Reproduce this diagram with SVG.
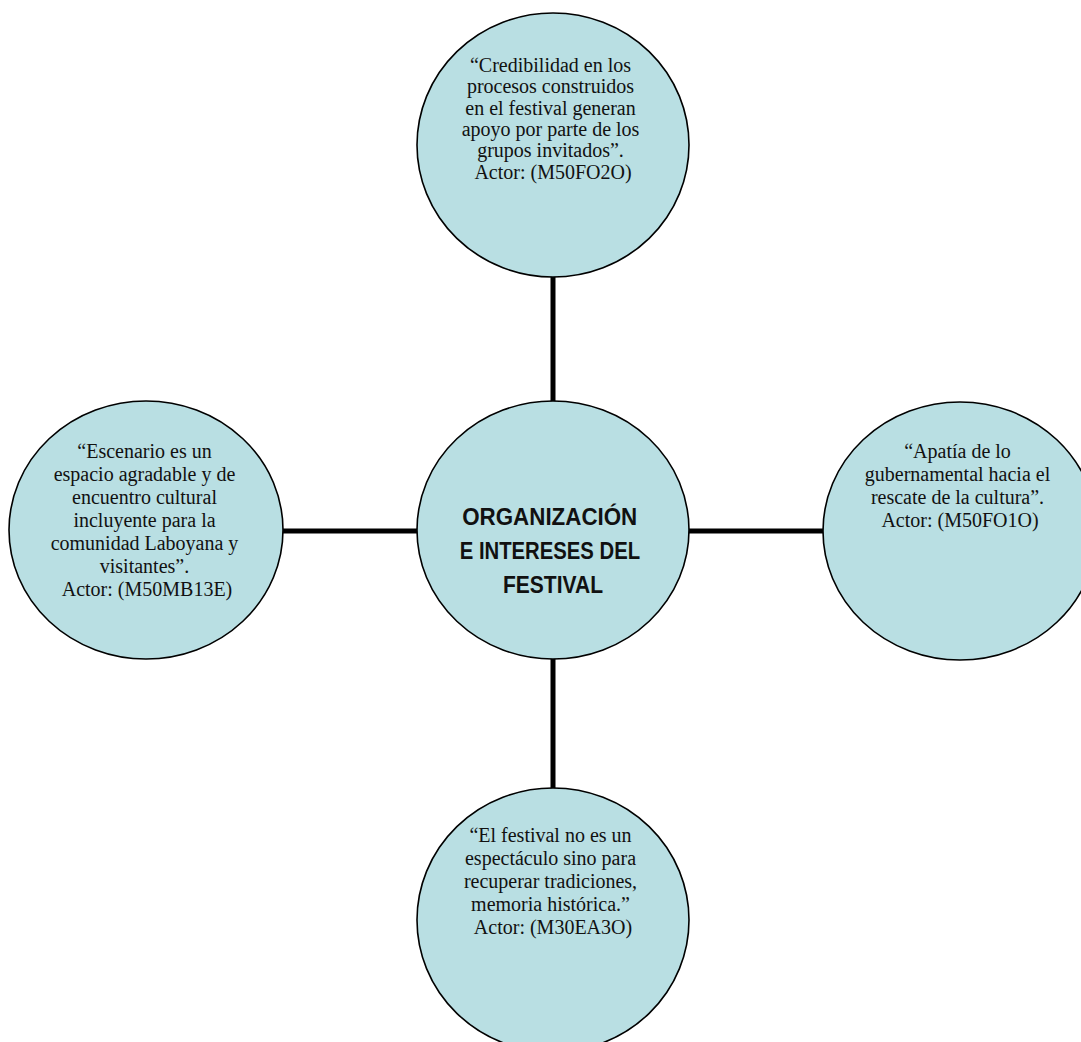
<svg xmlns="http://www.w3.org/2000/svg" width="1081" height="1042" viewBox="0 0 1081 1042">
  <style>
    .bubble { fill: #b9dfe3; stroke: #000; stroke-width: 1.6; }
    .link { stroke: #000; stroke-width: 5; fill: none; }
    .quote { font-family: "Liberation Serif", "Times New Roman", serif; font-size: 20px; fill: #111; text-anchor: middle; }
    .hub { font-family: "Liberation Sans", Arial, sans-serif; font-weight: bold; font-size: 23.5px; fill: #111; text-anchor: middle; }
  </style>
  <rect width="1081" height="1042" fill="#fff"/>

  <!-- spokes joining the hub to each quote -->
  <g id="connectors">
    <line class="link" x1="553" y1="276" x2="553" y2="402"/>
    <line class="link" x1="553" y1="658" x2="553" y2="789"/>
    <line class="link" x1="282" y1="531" x2="418" y2="531"/>
    <line class="link" x1="688" y1="531" x2="824" y2="531"/>
  </g>

  <g id="node-top">
    <ellipse class="bubble" cx="553" cy="145" rx="136" ry="132"/>
    <text class="quote">
      <tspan x="553" y="72">“Credibilidad en los</tspan>
      <tspan x="553" y="93.3">procesos construidos</tspan>
      <tspan x="553" y="114.6">en el festival generan</tspan>
      <tspan x="553" y="135.9">apoyo por parte de los</tspan>
      <tspan x="553" y="157.2">grupos invitados”.</tspan>
      <tspan x="553" y="178.5">Actor: (M50FO2O)</tspan>
    </text>
  </g>

  <g id="node-hub">
    <ellipse class="bubble" cx="553" cy="530" rx="136" ry="129"/>
    <text class="hub">
      <tspan x="553" y="525" textLength="175" lengthAdjust="spacingAndGlyphs">ORGANIZACIÓN</tspan>
      <tspan x="553" y="559" textLength="180" lengthAdjust="spacingAndGlyphs">E INTERESES DEL</tspan>
      <tspan x="553" y="593" textLength="100" lengthAdjust="spacingAndGlyphs">FESTIVAL</tspan>
    </text>
  </g>

  <g id="node-left">
    <ellipse class="bubble" cx="146" cy="530" rx="137" ry="129"/>
    <text class="quote">
      <tspan x="147" y="458">“Escenario es un</tspan>
      <tspan x="147" y="481">espacio agradable y de</tspan>
      <tspan x="147" y="504">encuentro cultural</tspan>
      <tspan x="147" y="527">incluyente para la</tspan>
      <tspan x="147" y="550">comunidad Laboyana y</tspan>
      <tspan x="147" y="573">visitantes”.</tspan>
      <tspan x="147" y="596">Actor: (M50MB13E)</tspan>
    </text>
  </g>

  <g id="node-right">
    <ellipse class="bubble" cx="960" cy="531" rx="137" ry="129"/>
    <text class="quote">
      <tspan x="960" y="458">“Apatía de lo</tspan>
      <tspan x="960" y="481">gubernamental hacia el</tspan>
      <tspan x="960" y="504">rescate de la cultura”.</tspan>
      <tspan x="960" y="527">Actor: (M50FO1O)</tspan>
    </text>
  </g>

  <g id="node-bottom">
    <ellipse class="bubble" cx="553" cy="920" rx="136" ry="132"/>
    <text class="quote">
      <tspan x="553" y="842">“El festival no es un</tspan>
      <tspan x="553" y="865">espectáculo sino para</tspan>
      <tspan x="553" y="888">recuperar tradiciones,</tspan>
      <tspan x="553" y="911">memoria histórica.”</tspan>
      <tspan x="553" y="934">Actor: (M30EA3O)</tspan>
    </text>
  </g>
</svg>
